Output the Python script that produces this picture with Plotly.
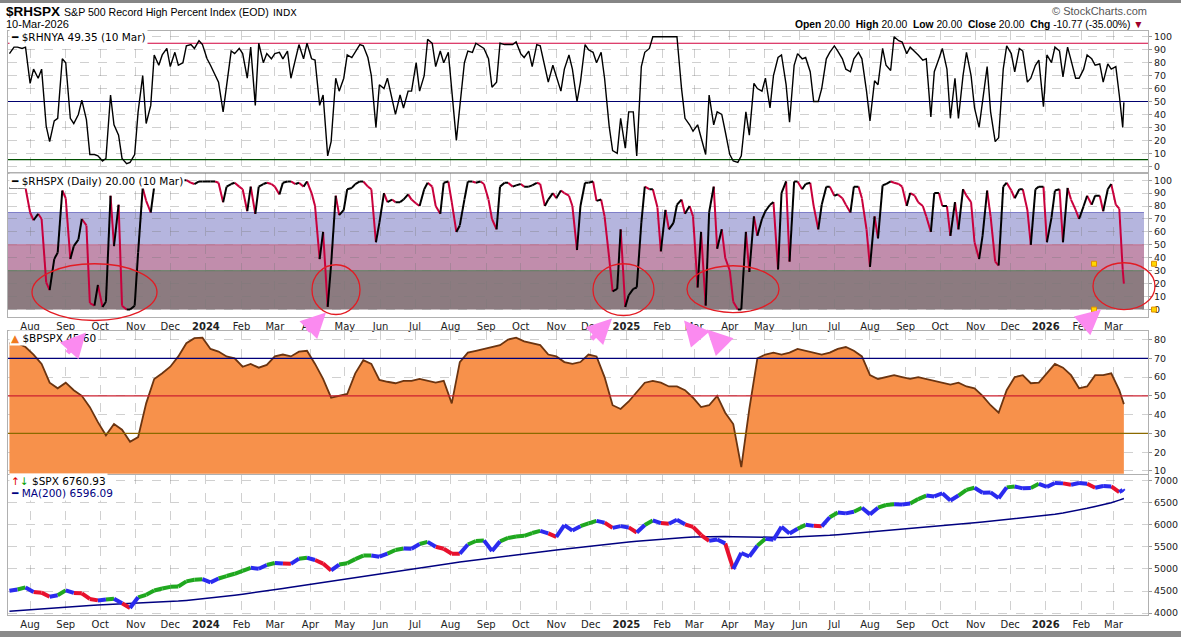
import pandas as pd
import plotly.graph_objects as go

# twice-weekly samples (Fri, then Tue/Fri pairs) for the two jagged panels,
# weekly Friday samples for the smooth panels, plus the last two sessions
fridays = pd.date_range("2023-07-14", periods=139, freq="7D")
tuesdays = fridays[:-1] + pd.Timedelta(days=4)
last_days = [pd.Timestamp("2026-03-09"), pd.Timestamp("2026-03-10")]

dates_semi = [fridays[0]]
for t, f in zip(tuesdays, fridays[1:]):
    dates_semi += [t, f]
dates_semi += last_days
dates_week = list(fridays) + last_days

rhnya = [87,
         92, 92, 91, 92, 64, 75, 68, 75, 31, 19,
         35, 37, 83, 80, 37, 33, 40, 51, 36, 9,
         9, 8, 4, 6, 55, 32, 24, 6, 2, 3,
         9, 42, 70, 33, 47, 86, 78, 86, 91, 77,
         88, 78, 80, 93, 94, 91, 97, 94, 83, 78,
         70, 65, 42, 63, 89, 87, 91, 87, 68, 92,
         47, 95, 80, 87, 83, 87, 88, 83, 89, 68,
         82, 94, 83, 95, 83, 82, 47, 55, 8, 19,
         68, 58, 68, 86, 84, 88, 94, 93, 84, 70,
         30, 63, 60, 68, 52, 40, 55, 45, 58, 58,
         80, 58, 70, 98, 95, 77, 89, 80, 88, 60,
         20, 46, 80, 89, 88, 95, 93, 91, 83, 61,
         65, 95, 94, 94, 94, 96, 87, 84, 89, 77,
         94, 93, 77, 65, 78, 69, 58, 75, 86, 75,
         50, 65, 94, 90, 88, 80, 88, 68, 31, 12,
         10, 37, 14, 42, 42, 8, 77, 88, 91, 100,
         100, 100, 100, 100, 100, 100, 60, 37, 32, 27,
         32, 22, 9, 55, 32, 42, 40, 27, 9, 4,
         3, 8, 42, 24, 64, 60, 58, 68, 45, 70,
         84, 86, 63, 34, 78, 87, 83, 84, 73, 50,
         50, 60, 83, 88, 93, 89, 83, 75, 73, 83,
         88, 83, 58, 35, 66, 63, 91, 78, 74, 100,
         97, 96, 87, 92, 89, 86, 82, 83, 38, 73,
         83, 91, 75, 37, 68, 37, 70, 88, 70, 45,
         30, 50, 77, 42, 19, 22, 75, 93, 87, 73,
         91, 89, 65, 68, 78, 82, 46, 86, 80, 92,
         89, 69, 92, 82, 68, 68, 75, 86, 83, 78,
         79, 65, 79, 75, 77, 55,
         30, 49.35]

rhspx = [94,
         94, 94, 94, 94, 75, 69, 74, 70, 21, 15,
         39, 44, 92, 86, 39, 49, 54, 70, 65, 5,
         3, 19, 2, 6, 88, 49, 81, 3, 0, 0,
         3, 44, 94, 84, 75, 95, 100, 100, 100, 100,
         100, 100, 100, 100, 98, 97, 99, 99, 99, 99,
         99, 98, 83, 95, 97, 98, 95, 93, 76, 95,
         74, 95, 97, 98, 97, 95, 89, 98, 99, 99,
         97, 98, 95, 99, 90, 80, 39, 60, 2, 35,
         88, 73, 77, 93, 94, 97, 99, 99, 95, 93,
         52, 67, 90, 83, 85, 83, 83, 85, 89, 85,
         82, 80, 93, 98, 95, 80, 74, 98, 99, 83,
         60, 65, 85, 99, 99, 98, 99, 97, 85, 70,
         62, 95, 98, 98, 95, 96, 97, 95, 95, 96,
         98, 97, 80, 85, 90, 86, 92, 90, 88, 80,
         46, 80, 98, 98, 99, 84, 85, 72, 40, 14,
         16, 62, 2, 11, 16, 17, 67, 95, 93, 93,
         79, 45, 77, 62, 67, 81, 85, 74, 80, 72,
         17, 60, 3, 75, 95, 47, 62, 40, 30, 6,
         0, 0, 60, 29, 72, 57, 70, 76, 81, 83,
         31, 90, 99, 37, 99, 99, 93, 97, 98, 80,
         62, 81, 95, 95, 88, 89, 86, 81, 75, 95,
         95, 86, 62, 33, 72, 55, 96, 97, 99, 98,
         97, 95, 80, 90, 88, 83, 80, 72, 60, 90,
         90, 80, 80, 57, 83, 62, 93, 88, 83, 52,
         39, 57, 92, 72, 37, 34, 95, 98, 92, 86,
         93, 93, 77, 50, 93, 95, 95, 52, 71, 92,
         93, 52, 94, 85, 77, 70, 80, 88, 81, 88,
         88, 76, 93, 97, 81, 78,
         30.77, 20]

bpspx = [78, 78, 76, 72, 67, 57, 54, 57, 53, 50,
         44, 36, 29, 35, 32, 25.5, 28, 46, 59, 62,
         65.5, 71, 78, 80.7, 81, 75, 73.6, 71, 70, 65.5,
         67, 65, 66.5, 71, 72, 71, 73.5, 74, 67, 59,
         49, 50, 51, 62, 69, 67, 58.5, 57.5, 56.7, 58,
         58, 59, 58, 57, 58, 46, 68, 73, 74, 75,
         76, 77, 80, 81, 79, 78, 77, 72, 71, 68,
         67, 68, 72, 71, 60, 45, 43, 47, 52, 57,
         58, 57, 55, 55, 53, 49, 44, 45, 50, 41,
         35, 12, 43, 70, 72, 73, 72, 73, 75, 74,
         73, 72, 73, 75, 76, 74, 71, 61, 59, 60,
         61, 60, 59, 60, 59, 58, 57, 56, 57, 55,
         54, 50, 45, 41, 53, 60, 61, 56.7, 57, 62,
         67, 65, 61, 54, 55, 61, 61, 62, 53,
         47.5, 45.6]

spx = [4505, 4536, 4582, 4478, 4464, 4370, 4406, 4516, 4457, 4450,
       4320, 4288, 4308, 4327, 4224, 4117, 4358, 4415, 4514, 4559,
       4595, 4604, 4719, 4755, 4770, 4697, 4784, 4840, 4891, 4959,
       5027, 5006, 5089, 5137, 5124, 5117, 5234, 5254, 5204, 5123,
       4967, 5100, 5128, 5223, 5303, 5305, 5278, 5347, 5431, 5465,
       5460, 5567, 5615, 5505, 5459, 5346, 5344, 5554, 5634, 5648,
       5408, 5626, 5703, 5738, 5751, 5815, 5864, 5808, 5729, 5995,
       5870, 5969, 6032, 6090, 6051, 5931, 5971, 5942, 5827, 5997,
       6101, 6041, 6026, 6115, 6013, 5955, 5770, 5639, 5668, 5581,
       5000, 5363, 5283, 5525, 5687, 5660, 5958, 5803, 5912, 6000,
       5977, 5967, 6173, 6280, 6260, 6297, 6389, 6238, 6389, 6450,
       6467, 6460, 6482, 6584, 6664, 6644, 6716, 6553, 6664, 6792,
       6840, 6728, 6734, 6603, 6849, 6870, 6827, 6834, 6930, 6860,
       6950, 6940, 6910, 6950, 6930, 6840, 6880, 6870, 6740,
       6795, 6760.93]

spx_ma200 = [4040, 4055, 4070, 4085, 4100, 4115, 4128, 4140, 4152, 4163,
             4173, 4182, 4190, 4198, 4205, 4210, 4218, 4226, 4236, 4246,
             4258, 4272, 4288, 4305, 4322, 4340, 4360, 4382, 4405, 4428,
             4452, 4478, 4505, 4532, 4560, 4588, 4616, 4645, 4672, 4698,
             4722, 4746, 4772, 4800, 4828, 4856, 4884, 4912, 4940, 4968,
             4996, 5025, 5054, 5082, 5108, 5132, 5156, 5180, 5205, 5228,
             5250, 5272, 5295, 5318, 5340, 5362, 5385, 5407, 5428, 5450,
             5472, 5494, 5515, 5535, 5555, 5574, 5592, 5610, 5627, 5644,
             5660, 5675, 5690, 5703, 5715, 5725, 5732, 5736, 5738, 5738,
             5732, 5728, 5722, 5718, 5715, 5714, 5716, 5720, 5726, 5734,
             5740, 5750, 5762, 5775, 5790, 5805, 5820, 5836, 5852, 5868,
             5885, 5902, 5918, 5934, 5950, 5966, 5982, 5998, 6014, 6030,
             6046, 6062, 6080, 6098, 6116, 6134, 6152, 6170, 6190, 6212,
             6238, 6268, 6300, 6336, 6374, 6414, 6456, 6500, 6560,
             6585, 6596.09]

for name, s, d in [("rhnya", rhnya, dates_semi), ("rhspx", rhspx, dates_semi),
                   ("bpspx", bpspx, dates_week), ("spx", spx, dates_week),
                   ("spx_ma200", spx_ma200, dates_week)]:
    assert len(s) == len(d), (name, len(s), len(d))

W, H = 1181, 640
LEFT, RIGHT = 8, 1148
X_START, X_END = "2023-07-12 18:00", "2026-03-31"


def px(x):
    return (x - LEFT) / (RIGHT - LEFT)


def py(y):
    return 1 - y / H


month_ticks = pd.date_range("2023-08-01", "2026-03-01", freq="MS")
month_text = [f"<b>{d.year}</b>" if d.month == 1 else d.strftime("%b") for d in month_ticks]
GRID = "rgba(120,120,120,0.35)"
FRAME = "#b0b0b0"


def make_xaxis(anchor, labels):
    return dict(type="date", range=[X_START, X_END], anchor=anchor,
                domain=[0, 1], tickvals=list(month_ticks), ticktext=month_text,
                showticklabels=labels, ticks="", showgrid=True, gridcolor=GRID,
                griddash="dash", gridwidth=1, showline=True, linecolor=FRAME, mirror=True,
                zeroline=False, tickfont=dict(family="DejaVu Sans", size=10, color="#222"))


def make_yaxis(anchor, top, bottom, rng, tickvals):
    return dict(anchor=anchor, domain=[py(bottom), py(top)], range=rng, side="right",
                tickvals=tickvals, showgrid=True, gridcolor=GRID, griddash="dash",
                showline=True, linecolor=FRAME, mirror=True, zeroline=False,
                ticks="outside", ticklen=3, tickcolor="#999",
                tickfont=dict(family="DejaVu Sans", size=9.5, color="#222"))


def level_line(level, color, xa, ya, end=X_END, width=1.2):
    return go.Scatter(x=[X_START, end], y=[level, level], mode="lines",
                      line=dict(color=color, width=width), xaxis=xa, yaxis=ya,
                      hoverinfo="skip")


fig = go.Figure()

# panel 1: $RHNYA with its signal levels underneath
for lvl, col in [(95, "#d2003c"), (50, "#00006e"), (5, "#005000")]:
    fig.add_trace(level_line(lvl, col, "x", "y"))
fig.add_trace(go.Scatter(x=dates_semi, y=rhnya, mode="lines",
                         line=dict(color="#000", width=1.4), xaxis="x", yaxis="y"))

# panel 2: zone edges, then $RHSPX (black when rising, crimson when falling)
band_end_date = "2026-03-27 12:00"
for lvl, col in [(75, "#7f7fc8"), (50, "#c06a8a"), (30, "#5d7d5d")]:
    fig.add_trace(level_line(lvl, col, "x2", "y2", end=band_end_date, width=1))
up_x, up_y, dn_x, dn_y = [], [], [], []
for i in range(1, len(rhspx)):
    sx = [dates_semi[i - 1], dates_semi[i], None]
    sy = [rhspx[i - 1], rhspx[i], None]
    if rhspx[i] >= rhspx[i - 1]:
        up_x += sx
        up_y += sy
    else:
        dn_x += sx
        dn_y += sy
fig.add_trace(go.Scatter(x=dn_x, y=dn_y, mode="lines", line=dict(color="#c8003c", width=2),
                         xaxis="x2", yaxis="y2"))
fig.add_trace(go.Scatter(x=up_x, y=up_y, mode="lines", line=dict(color="#000", width=2),
                         xaxis="x2", yaxis="y2"))

# panel 3: $BPSPX area
fig.add_trace(go.Scatter(x=dates_week, y=bpspx, mode="lines", fill="tozeroy",
                         fillcolor="#f7914b", line=dict(color="#6b3410", width=1.8),
                         xaxis="x3", yaxis="y3"))

# panel 4: $SPX with impulse-style colouring, and its 200-day MA
seg_colors = {"g": "#1fa81f", "r": "#e8112d", "b": "#2b2bef"}
segs = {k: ([], []) for k in seg_colors}
for i in range(1, len(spx)):
    if i >= 2 and spx[i] > spx[i - 1] and spx[i - 1] >= spx[i - 2]:
        c = "g"
    elif i >= 2 and spx[i] < spx[i - 1] and spx[i - 1] <= spx[i - 2]:
        c = "r"
    else:
        c = "b"
    segs[c][0].extend([dates_week[i - 1], dates_week[i], None])
    segs[c][1].extend([spx[i - 1], spx[i], None])
fig.add_trace(go.Scatter(x=dates_week, y=spx_ma200, mode="lines",
                         line=dict(color="#000080", width=1.5), xaxis="x4", yaxis="y4"))
for c, (sx, sy) in segs.items():
    fig.add_trace(go.Scatter(x=sx, y=sy, mode="lines", line=dict(color=seg_colors[c], width=4),
                             xaxis="x4", yaxis="y4"))

shapes = []
# grey bars at the top and bottom of the image
shapes.append(dict(type="rect", xref="paper", yref="paper", x0=px(0), x1=px(W), y0=py(3), y1=py(0),
                   fillcolor="#858585", line=dict(width=0)))
shapes.append(dict(type="rect", xref="paper", yref="paper", x0=px(0), x1=px(W), y0=py(640),
                   y1=py(634), fillcolor="#8a8a8a", line=dict(width=0)))

# panel 2 zones
band_end = px(1144)
for lo, hi, fill in [(0, 30, "#8c7b80"), (30, 50, "#c18dac"), (50, 75, "#b5b5de")]:
    shapes.append(dict(type="rect", xref="x2 domain", yref="y2", x0=0, x1=band_end, y0=lo, y1=hi,
                       fillcolor=fill, line=dict(width=0), layer="below"))

# panel 3 reference lines
for lvl, col in [(70, "#00007a"), (50, "#cc2030"), (30, "#8a6a00")]:
    shapes.append(dict(type="line", xref="x3 domain", yref="y3", x0=0, x1=1, y0=lvl, y1=lvl,
                       line=dict(color=col, width=1.2), layer="above"))

# red ellipses drawn on panel 2
for x0, x1, y0, y1 in [(32, 157, 265, 322), (312, 360, 266, 316), (593, 654, 265, 317),
                       (687, 779, 267, 314), (1093, 1155, 264, 311)]:
    shapes.append(dict(type="circle", xref="paper", yref="paper", x0=px(x0), x1=px(x1),
                       y0=py(y1), y1=py(y0), line=dict(color="#e31b23", width=1.3)))

# selection handles of the last ellipse
for hx, hy in [(1094, 265), (1154, 265), (1094, 311), (1154, 311)]:
    shapes.append(dict(type="rect", xref="paper", yref="paper", x0=px(hx - 2.5), x1=px(hx + 2.5),
                       y0=py(hy + 2.5), y1=py(hy - 2.5), fillcolor="#ffd700",
                       line=dict(color="#e09000", width=1)))

ann = []


def text(x, y, s, size, color="#000", family="Liberation Sans", anchor="left",
         bg="rgba(0,0,0,0)"):
    ann.append(dict(x=px(x), y=py(y), xref="paper", yref="paper", text=s, showarrow=False,
                    xanchor=anchor, yanchor="middle", bgcolor=bg, borderpad=1,
                    font=dict(family=family, size=size, color=color)))


text(4, 12, "<b>$RHSPX</b>", 13.5)
text(62, 12.5, "S&amp;P 500 Record High Percent Index (EOD)", 10.6)
text(271, 12.5, "INDX", 9.5, family="DejaVu Sans")
text(4, 24.5, "10-Mar-2026", 11)
text(1149, 11, "© StockCharts.com", 11, color="#555", anchor="right")
text(1146, 24.5,
     "<b>Open</b> 20.00&nbsp;&nbsp;<b>High</b> 20.00&nbsp;&nbsp;<b>Low</b> 20.00&nbsp;&nbsp;"
     "<b>Close</b> 20.00&nbsp;&nbsp;<b>Chg</b> -10.77 (-35.00%) "
     "<span style='color:#a0002a'>▼</span>", 10.3, anchor="right")

text(9, 37, "<b>━</b> $RHNYA 49.35 (10 Mar)", 10.5, family="DejaVu Sans", bg="white")
text(9, 182, "<b>━</b> $RHSPX (Daily) 20.00 (10 Mar)", 10.5, family="DejaVu Sans", bg="white")
text(9, 340, "<span style='color:#f07a20'>▲</span> $BPSPX 45.60", 10.5, family="DejaVu Sans",
     bg="white")
text(9, 483, "<span style='color:#e00000'>↑</span><span style='color:#00a000'>↓</span> $SPX 6760.93",
     10.5, family="DejaVu Sans", bg="white")
text(9, 495, "<span style='color:#000080'><b>━</b> MA(200) 6596.09</span>", 10.5,
     family="DejaVu Sans", bg="white")

# pink arrows drawn on the chart
for hx, hy, dx, dy in [(86, 334, -20, 22), (326, 314, -20, 20), (612, 320, -22, 22),
                       (684, 322, 13, 15), (707, 331, 15, 15), (1101, 311, -15, 13)]:
    ann.append(dict(x=px(hx), y=py(hy), xref="paper", yref="paper", ax=dx, ay=dy, text="",
                    showarrow=True, arrowhead=2, arrowsize=1, arrowwidth=5,
                    arrowcolor="#fb8af0"))

fig.update_layout(
    width=W, height=H, margin=dict(l=LEFT, r=W - RIGHT, t=0, b=0),
    paper_bgcolor="white", plot_bgcolor="white", showlegend=False,
    font=dict(family="DejaVu Sans", size=10, color="#222"),
    xaxis=make_xaxis("y", False), xaxis2=make_xaxis("y2", True),
    xaxis3=make_xaxis("y3", False), xaxis4=make_xaxis("y4", True),
    yaxis=make_yaxis("x", 31, 174, [-5.4, 104.6], list(range(0, 101, 10))),
    yaxis2=make_yaxis("x2", 174, 318, [-5.4, 105.4], list(range(0, 101, 10))),
    yaxis3=make_yaxis("x3", 333, 476, [8.5, 84.3], list(range(10, 81, 10))),
    yaxis4=make_yaxis("x4", 477, 618, [3955, 7135], list(range(4000, 7001, 500))),
    shapes=shapes, annotations=ann,
)

fig.write_html("out.html", config={"displayModeBar": False},
               post_script="document.body.style.margin='0px';")
